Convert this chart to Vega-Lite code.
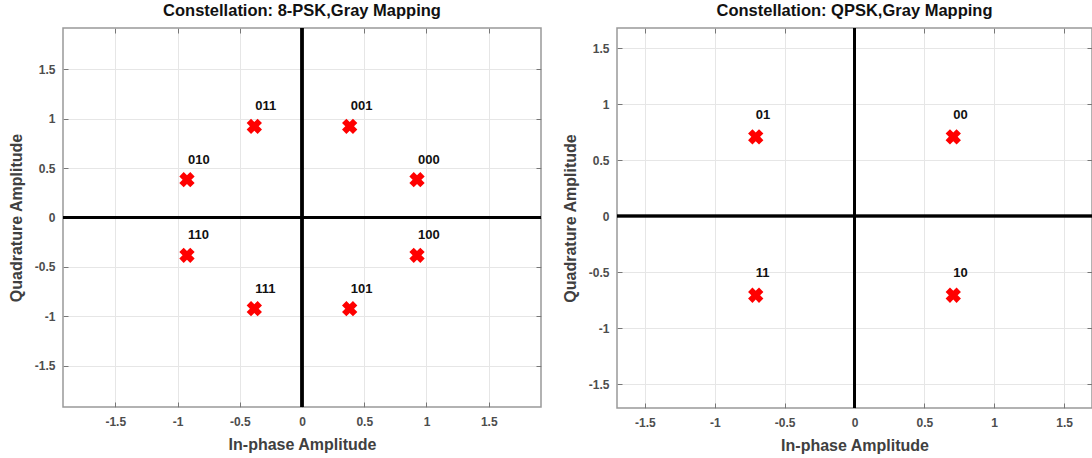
{
  "$schema": "https://vega.github.io/schema/vega-lite/v6.json",
  "padding": {"left": 7, "top": 2, "right": 0, "bottom": 0},
  "spacing": 18,
  "config": {
    "font": "Liberation Sans",
    "view": {"stroke": "#999999", "strokeWidth": 1.5},
    "axis": {
      "domain": false,
      "labelFont": "Liberation Sans",
      "labelFontWeight": "bold",
      "labelFontSize": 12,
      "labelColor": "#4d4d4d",
      "titleFont": "Liberation Sans",
      "titleFontWeight": "bold",
      "titleFontSize": 16,
      "titleColor": "#404040",
      "tickColor": "#777777",
      "tickSize": -5,
      "gridColor": "#e6e6e6",
      "gridWidth": 1
    },
    "title": {"font": "Liberation Sans", "fontSize": 16.5, "fontWeight": "bold", "color": "#111111", "offset": 6}
  },
  "datasets": {
    "psk8": [
      {"I": 0.924, "Q": 0.383, "bits": "000"},
      {"I": 0.383, "Q": 0.924, "bits": "001"},
      {"I": -0.383, "Q": 0.924, "bits": "011"},
      {"I": -0.924, "Q": 0.383, "bits": "010"},
      {"I": -0.924, "Q": -0.383, "bits": "110"},
      {"I": -0.383, "Q": -0.924, "bits": "111"},
      {"I": 0.383, "Q": -0.924, "bits": "101"},
      {"I": 0.924, "Q": -0.383, "bits": "100"}
    ],
    "qpsk": [
      {"I": 0.707, "Q": 0.707, "bits": "00"},
      {"I": -0.707, "Q": 0.707, "bits": "01"},
      {"I": -0.707, "Q": -0.707, "bits": "11"},
      {"I": 0.707, "Q": -0.707, "bits": "10"}
    ]
  },
  "hconcat": [
    {
      "width": 478,
      "height": 379,
      "title": {"text": "Constellation: 8-PSK,Gray Mapping", "offset": 7},
      "data": {"name": "psk8"},
      "layer": [
        {
          "mark": {"type": "point", "shape": "cross", "angle": 45, "filled": true, "size": 240, "color": "#ff0000", "opacity": 1},
          "encoding": {
            "x": {"field": "I", "type": "quantitative", "scale": {"domain": [-1.92, 1.92], "nice": false, "zero": false},
              "axis": {"orient": "bottom", "values": [-1.5, -1, -0.5, 0, 0.5, 1, 1.5], "labelExpr": "'' + datum.value", "grid": true, "labelPadding": 14, "titlePadding": 9, "title": "In-phase Amplitude"}},
            "y": {"field": "Q", "type": "quantitative", "scale": {"domain": [-1.92, 1.92], "nice": false, "zero": false},
              "axis": {"orient": "left", "values": [-1.5, -1, -0.5, 0, 0.5, 1, 1.5], "labelExpr": "'' + datum.value", "grid": true, "labelPadding": 13, "titlePadding": 10, "title": "Quadrature Amplitude"}}
          }
        },
        {
          "mark": {"type": "rule", "color": "#000000", "strokeWidth": 2.5},
          "encoding": {
            "x": {"datum": 0, "type": "quantitative", "axis": {"orient": "top", "values": [-1.5, -1, -0.5, 0, 0.5, 1, 1.5], "labels": false, "grid": false, "title": null}}
          }
        },
        {
          "mark": {"type": "rule", "color": "#000000", "strokeWidth": 2.5},
          "encoding": {
            "y": {"datum": 0, "type": "quantitative", "axis": {"orient": "right", "values": [-1.5, -1, -0.5, 0, 0.5, 1, 1.5], "labels": false, "grid": false, "title": null}}
          }
        },
        {
          "mark": {"type": "text", "align": "left", "baseline": "middle", "dx": 1, "dy": -20, "fontSize": 13, "fontWeight": "bold", "color": "#111111"},
          "encoding": {
            "x": {"field": "I", "type": "quantitative", "axis": null},
            "y": {"field": "Q", "type": "quantitative", "axis": null},
            "text": {"field": "bits"}
          }
        }
      ],
      "resolve": {"axis": {"x": "independent", "y": "independent"}}
    },
    {
      "width": 475,
      "height": 380,
      "title": {"text": "Constellation: QPSK,Gray Mapping", "offset": 7},
      "data": {"name": "qpsk"},
      "layer": [
        {
          "mark": {"type": "point", "shape": "cross", "angle": 45, "filled": true, "size": 240, "color": "#ff0000", "opacity": 1},
          "encoding": {
            "x": {"field": "I", "type": "quantitative", "scale": {"domain": [-1.7, 1.7], "nice": false, "zero": false},
              "axis": {"orient": "bottom", "values": [-1.5, -1, -0.5, 0, 0.5, 1, 1.5], "labelExpr": "'' + datum.value", "grid": true, "labelPadding": 14, "titlePadding": 9, "title": "In-phase Amplitude"}},
            "y": {"field": "Q", "type": "quantitative", "scale": {"domain": [-1.714, 1.679], "nice": false, "zero": false},
              "axis": {"orient": "left", "values": [-1.5, -1, -0.5, 0, 0.5, 1, 1.5], "labelExpr": "'' + datum.value", "grid": true, "labelPadding": 13, "titlePadding": 10, "title": "Quadrature Amplitude"}}
          }
        },
        {
          "mark": {"type": "rule", "color": "#000000", "strokeWidth": 2.5},
          "encoding": {
            "x": {"datum": 0, "type": "quantitative", "axis": {"orient": "top", "values": [-1.5, -1, -0.5, 0, 0.5, 1, 1.5], "labels": false, "grid": false, "title": null}}
          }
        },
        {
          "mark": {"type": "rule", "color": "#000000", "strokeWidth": 2.5},
          "encoding": {
            "y": {"datum": 0, "type": "quantitative", "axis": {"orient": "right", "values": [-1.5, -1, -0.5, 0, 0.5, 1, 1.5], "labels": false, "grid": false, "title": null}}
          }
        },
        {
          "mark": {"type": "text", "align": "left", "baseline": "middle", "dx": 0, "dy": -22, "fontSize": 13, "fontWeight": "bold", "color": "#111111"},
          "encoding": {
            "x": {"field": "I", "type": "quantitative", "axis": null},
            "y": {"field": "Q", "type": "quantitative", "axis": null},
            "text": {"field": "bits"}
          }
        }
      ],
      "resolve": {"axis": {"x": "independent", "y": "independent"}}
    }
  ]
}
